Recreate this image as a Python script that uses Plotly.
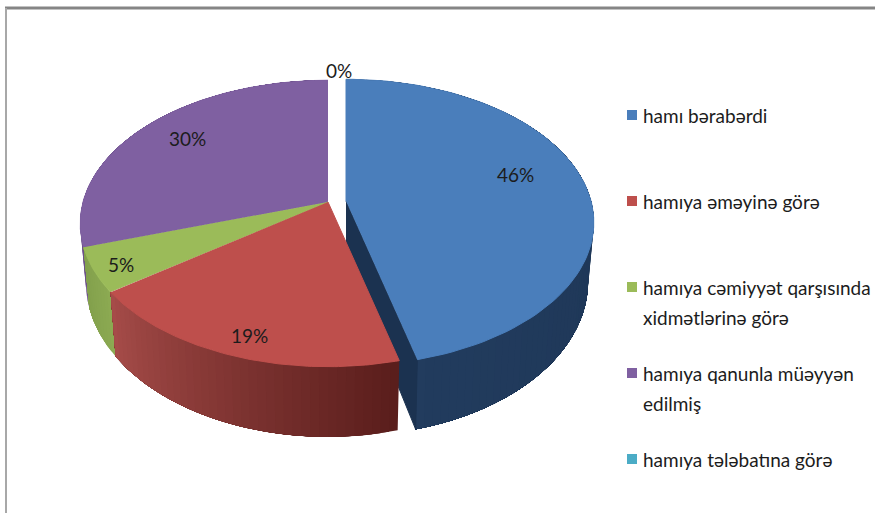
import numpy as np
import plotly.graph_objects as go

# ---- data -------------------------------------------------------------
categories = [["hamı bərabərdi"], ["hamıya əməyinə görə"],
              ["hamıya cəmiyyət qarşısında", "xidmətlərinə görə"],
              ["hamıya qanunla müəyyən", "edilmiş"], ["hamıya tələbatına görə"]]
values = [46, 19, 5, 30, 0]

# ---- style / layout ---------------------------------------------------
top_colors = ["#4A7EBB", "#BE4F4C", "#9BBB59", "#7F60A1", "#4BACC6"]
side_from = [(34, 60, 94), (166, 76, 73), (140, 170, 82), (110, 82, 140), (60, 140, 160)]
side_to = [(27, 50, 80), (90, 30, 28), (130, 160, 76), (100, 74, 128), (60, 140, 160)]
explode = [(18, -1), (0, 0), (0, 0), (0, 0), (0, 0)]
label_pos = [(515, 174), (249, 335), (121, 264), (187, 138), (339, 70)]
legend_y = [115, 201, 287, 373, 459]
LINE_GAP = 30
CX, CY, RX, RY, K = 328, 202, 245, 140, 0.15
DEPTH, SX, SY = 57, 0.977, 1.08
FONT = "Lato, Carlito, 'Open Sans', sans-serif"


def top_pt(theta, off):
    u, v = np.sin(theta), -np.cos(theta)
    w = 1 - K * v
    return CX + off[0] + RX * u / w, CY + off[1] + RY * v / w


def bottom_pt(theta, off):
    x, y = top_pt(theta, off)
    return (CX + off[0] + (x - CX - off[0]) * SX,
            CY + off[1] + DEPTH + (y - CY - off[1]) * SY)


def rgb(c):
    return "rgb({},{},{})".format(*c)


fig = go.Figure()


def poly(xs, ys, color):
    fig.add_trace(go.Scatter(x=xs, y=ys, mode="lines", fill="toself", fillcolor=color,
                             line=dict(color=color, width=1), showlegend=False,
                             hoverinfo="skip"))


total = sum(values)
edges = np.concatenate([[0], np.cumsum(values)]) / total * 2 * np.pi


def draw_slice(i):
    if values[i] == 0:
        return
    a, b, off = edges[i], edges[i + 1], explode[i]
    n = max(int(values[i]), 4) * 2
    ts = np.linspace(a, b, n + 1)
    for j in range(n):
        f = j / max(n - 1, 1)
        if i in (0, 1):
            f = 1 - f
        col = tuple(int(side_from[i][k] + (side_to[i][k] - side_from[i][k]) * f) for k in range(3))
        # each strip runs to the slice's end and the next paints over it: no seams
        sub = np.linspace(ts[j], b, 40)
        top = [top_pt(t, off) for t in sub]
        bot = [bottom_pt(t, off) for t in sub[::-1]]
        pts = top + bot
        fig.add_trace(go.Scatter(x=[p[0] for p in pts], y=[p[1] for p in pts], mode="lines",
                                 fill="toself", fillcolor=rgb(col), line=dict(width=0),
                                 showlegend=False, hoverinfo="skip"))
    if explode[i] != (0, 0):
        ax, ay = CX + off[0], CY + off[1]
        tb, bb = top_pt(b, off), bottom_pt(b, off)
        poly([ax, tb[0], bb[0], ax], [ay, tb[1], bb[1], ay + DEPTH], rgb(side_to[i]))
    arc = [top_pt(t, off) for t in np.linspace(a, b, 90)]
    poly([CX + off[0]] + [p[0] for p in arc], [CY + off[1]] + [p[1] for p in arc], top_colors[i])


for i in [0, 3, 2, 1]:
    draw_slice(i)

fig.add_trace(go.Scatter(x=[632] * len(categories), y=legend_y, mode="markers",
                         marker=dict(symbol="square", size=10, color=top_colors),
                         showlegend=False, hoverinfo="skip"))

annotations = []
for v, (x, y) in zip(values, label_pos):
    annotations.append(dict(x=x, y=y, text=f"{v}%", showarrow=False, xref="x", yref="y",
                            font=dict(family=FONT, size=19, color="#1c1c1c")))
for lines, y in zip(categories, legend_y):
    for k, line in enumerate(lines):
        annotations.append(dict(x=641, y=y + k * LINE_GAP, text=line, showarrow=False,
                                xref="x", yref="y", xanchor="left", align="left",
                                font=dict(family=FONT, size=19, color="#1c1c1c")))

fig.update_layout(
    width=875, height=513, margin=dict(l=0, r=0, t=0, b=0),
    paper_bgcolor="white", plot_bgcolor="white",
    xaxis=dict(range=[0, 875], visible=False, fixedrange=True),
    yaxis=dict(range=[513, 0], visible=False, fixedrange=True),
    annotations=annotations,
    shapes=[
        dict(type="line", xref="x", yref="y", x0=5, x1=875, y0=8, y1=8,
             line=dict(color="#858585", width=3)),
        dict(type="line", xref="x", yref="y", x0=6, x1=6, y0=8, y1=513,
             line=dict(color="#a8a8a8", width=2)),
    ],
)
fig.write_html("out.html", config={"displayModeBar": False},
               post_script="document.body.style.margin='0';document.documentElement.style.overflow='hidden';")
